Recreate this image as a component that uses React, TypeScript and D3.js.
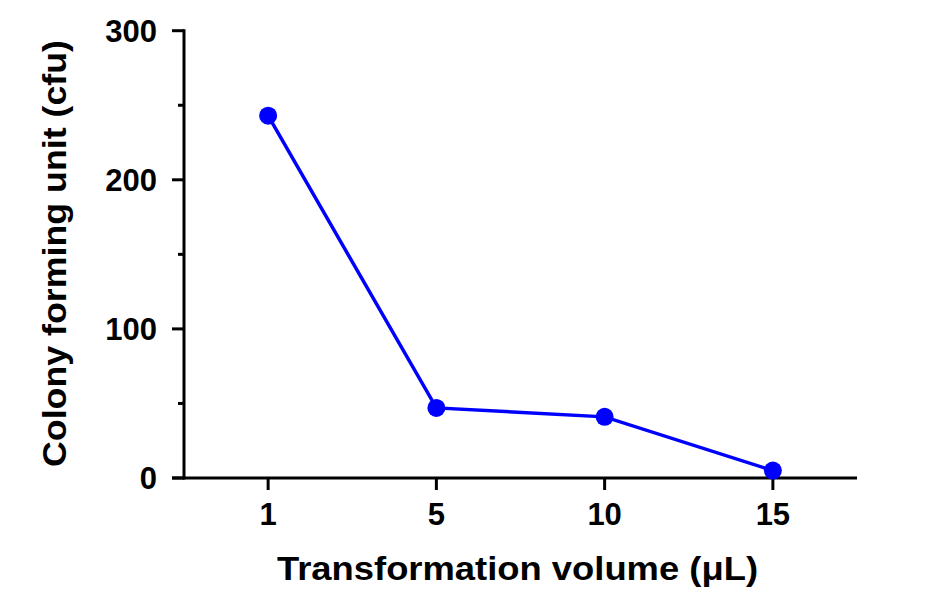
import { useEffect, useRef } from "react";
import * as d3 from "d3";

const volumes = ["1", "5", "10", "15"];
const colonies = [243, 47, 41, 5];
const yTicks = [0, 100, 200, 300];
const yMinorTicks = [50, 150, 250];

export default function App() {
  const ref = useRef<SVGSVGElement>(null);

  useEffect(() => {
    const svg = d3.select(ref.current);
    svg.selectAll("*").remove();

    const left = 184;
    const right = 857;
    const top = 30.7;
    const bottom = 478;
    const font = "'Liberation Sans', Arial, sans-serif";

    const x = d3.scalePoint<string>().domain(volumes).range([left, right]).padding(0.5);
    const y = d3.scaleLinear().domain([0, 300]).range([bottom, top]);

    // y axis
    const yAxis = svg.append("g");
    yAxis
      .append("line")
      .attr("x1", left)
      .attr("x2", left)
      .attr("y1", top - 1.5)
      .attr("y2", bottom + 1.5)
      .attr("stroke", "#000")
      .attr("stroke-width", 3);
    yAxis
      .selectAll(".major")
      .data(yTicks)
      .enter()
      .append("line")
      .attr("x1", left - 12)
      .attr("x2", left)
      .attr("y1", (d) => y(d))
      .attr("y2", (d) => y(d))
      .attr("stroke", "#000")
      .attr("stroke-width", 3);
    yAxis
      .selectAll(".minor")
      .data(yMinorTicks)
      .enter()
      .append("line")
      .attr("x1", left - 6)
      .attr("x2", left)
      .attr("y1", (d) => y(d))
      .attr("y2", (d) => y(d))
      .attr("stroke", "#000")
      .attr("stroke-width", 3);
    yAxis
      .selectAll("text")
      .data(yTicks)
      .enter()
      .append("text")
      .attr("x", left - 27)
      .attr("y", (d) => y(d))
      .attr("dy", "0.36em")
      .attr("text-anchor", "end")
      .style("font-family", font)
      .style("font-weight", "bold")
      .style("font-size", "31px")
      .text((d) => d);

    // x axis
    const xAxis = svg.append("g");
    xAxis
      .append("line")
      .attr("x1", left - 12)
      .attr("x2", right)
      .attr("y1", bottom)
      .attr("y2", bottom)
      .attr("stroke", "#000")
      .attr("stroke-width", 3);
    xAxis
      .selectAll(".tick")
      .data(volumes)
      .enter()
      .append("line")
      .attr("x1", (d) => x(d)!)
      .attr("x2", (d) => x(d)!)
      .attr("y1", bottom)
      .attr("y2", bottom + 12)
      .attr("stroke", "#000")
      .attr("stroke-width", 3);
    xAxis
      .selectAll("text")
      .data(volumes)
      .enter()
      .append("text")
      .attr("x", (d) => x(d)!)
      .attr("y", 525)
      .attr("text-anchor", "middle")
      .style("font-family", font)
      .style("font-weight", "bold")
      .style("font-size", "31px")
      .text((d) => d);

    // titles
    svg
      .append("text")
      .attr("x", 277)
      .attr("y", 580)
      .attr("textLength", 481)
      .attr("lengthAdjust", "spacingAndGlyphs")
      .style("font-family", font)
      .style("font-weight", "bold")
      .style("font-size", "33.5px")
      .text("Transformation volume (\u03bcL)");

    svg
      .append("text")
      .attr("transform", "translate(66, 467) rotate(-90)")
      .attr("textLength", 427)
      .attr("lengthAdjust", "spacingAndGlyphs")
      .style("font-family", font)
      .style("font-weight", "bold")
      .style("font-size", "33px")
      .text("Colony forming unit (cfu)");

    // series
    const points = volumes.map((v, i) => ({ v, c: colonies[i] }));
    const line = d3
      .line<{ v: string; c: number }>()
      .x((d) => x(d.v)!)
      .y((d) => y(d.c));

    svg
      .append("path")
      .datum(points)
      .attr("d", line)
      .attr("fill", "none")
      .attr("stroke", "#0000ff")
      .attr("stroke-width", 3.5);

    svg
      .selectAll(".dot")
      .data(points)
      .enter()
      .append("circle")
      .attr("cx", (d) => x(d.v)!)
      .attr("cy", (d) => y(d.c))
      .attr("r", 9)
      .attr("fill", "#0000ff");
  }, []);

  return (
    <svg
      ref={ref}
      width={942}
      height={590}
      style={{ position: "absolute", left: 0, top: 0, background: "#fff" }}
    />
  );
}
